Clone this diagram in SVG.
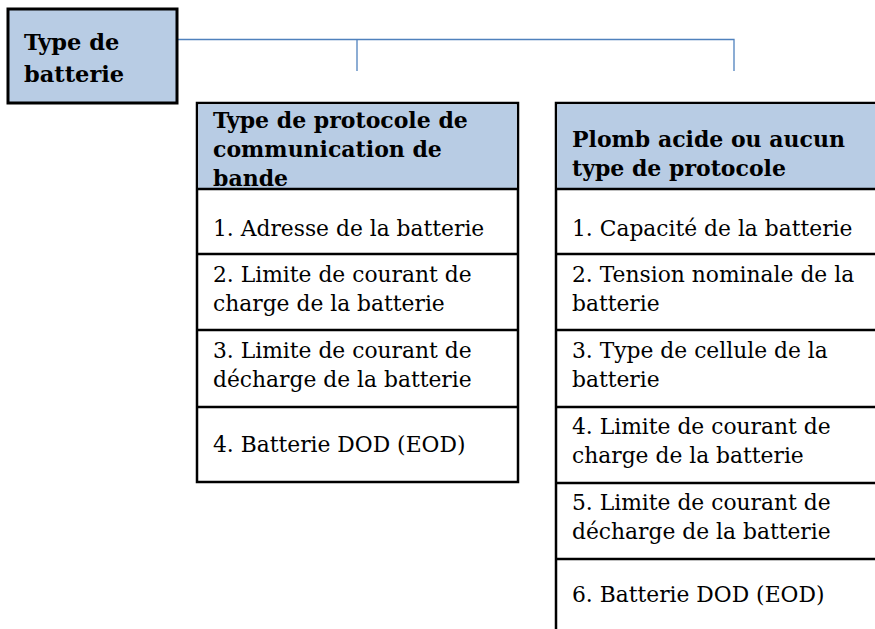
<svg xmlns="http://www.w3.org/2000/svg" width="875" height="629" viewBox="0 0 875 629">
<style>
.box{stroke:#000;stroke-width:2.5;fill:#fff}
.hdr{fill:#B8CCE4}
.sep{stroke:#000;stroke-width:2.5}
.conn{stroke:#4F81BD;stroke-width:1.3;fill:none}
.b{font-family:"DejaVu Serif","Liberation Serif",serif;font-weight:bold;font-size:22px;fill:#000}
.r{font-family:"DejaVu Serif","Liberation Serif",serif;font-size:21.8px;fill:#000}
</style>
<rect width="875" height="629" fill="#fff"/>
<g id="connectors">
<path class="conn" d="M177 39.5H734V71"/>
<path class="conn" d="M357 39.5V71"/>
</g>
<g id="root">
<rect x="8" y="9" width="169" height="94" class="box hdr" style="stroke-width:3"/>
<text class="b" x="24" y="50" style="font-size:22.5px">Type de</text>
<text class="b" x="24" y="82" style="font-size:22.5px">batterie</text>
</g>
<g id="protocol">
<rect x="197" y="103" width="321" height="379" class="box"/>
<rect x="198.2" y="104.2" width="318.6" height="84.8" class="hdr"/>
<line class="sep" x1="197" y1="189" x2="518" y2="189"/>
<line class="sep" x1="197" y1="254" x2="518" y2="254"/>
<line class="sep" x1="197" y1="330" x2="518" y2="330"/>
<line class="sep" x1="197" y1="407" x2="518" y2="407"/>
<text class="b" x="213" y="128">Type de protocole de</text>
<text class="b" x="213" y="157">communication de</text>
<text class="b" x="213" y="186">bande</text>
<text class="r" x="213" y="236">1. Adresse de la batterie</text>
<text class="r" x="213" y="282">2. Limite de courant de</text>
<text class="r" x="213" y="311">charge de la batterie</text>
<text class="r" x="213" y="358">3. Limite de courant de</text>
<text class="r" x="213" y="387">décharge de la batterie</text>
<text class="r" x="213" y="452">4. Batterie DOD (EOD)</text>
</g>
<g id="leadacid">
<rect x="556" y="103" width="340" height="560" class="box"/>
<rect x="557.2" y="104.2" width="330" height="84.8" class="hdr"/>
<line class="sep" x1="556" y1="189" x2="875" y2="189"/>
<line class="sep" x1="556" y1="254" x2="875" y2="254"/>
<line class="sep" x1="556" y1="330" x2="875" y2="330"/>
<line class="sep" x1="556" y1="407" x2="875" y2="407"/>
<line class="sep" x1="556" y1="483" x2="875" y2="483"/>
<line class="sep" x1="556" y1="559" x2="875" y2="559"/>
<text class="b" x="572" y="147">Plomb acide ou aucun</text>
<text class="b" x="572" y="176">type de protocole</text>
<text class="r" x="572" y="236">1. Capacité de la batterie</text>
<text class="r" x="572" y="282">2. Tension nominale de la</text>
<text class="r" x="572" y="311">batterie</text>
<text class="r" x="572" y="358">3. Type de cellule de la</text>
<text class="r" x="572" y="387">batterie</text>
<text class="r" x="572" y="434">4. Limite de courant de</text>
<text class="r" x="572" y="463">charge de la batterie</text>
<text class="r" x="572" y="510">5. Limite de courant de</text>
<text class="r" x="572" y="539">décharge de la batterie</text>
<text class="r" x="572" y="602">6. Batterie DOD (EOD)</text>
</g>
</svg>
